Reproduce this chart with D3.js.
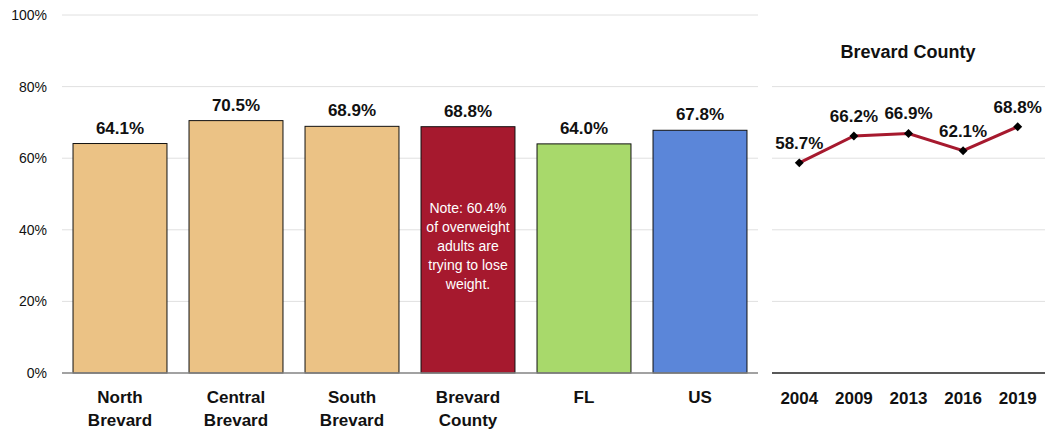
<!DOCTYPE html>
<html><head><meta charset="utf-8">
<script src="https://cdn.jsdelivr.net/npm/d3@7"></script>
<style>
body{margin:0;background:#fff;}
text{font-family:"Liberation Sans Narrow","Arial Narrow","Liberation Sans",Arial,sans-serif;}
</style></head>
<body><svg id="c" width="1045" height="432"></svg>
<script>
const categories = [["North","Brevard"],["Central","Brevard"],["South","Brevard"],["Brevard","County"],["FL"],["US"]];
const values = [64.1, 70.5, 68.9, 68.8, 64.0, 67.8];
const barColors = ["#EBC285","#EBC285","#EBC285","#A6192E","#A8D96B","#5B86D9"];
const yTicks = [0,20,40,60,80,100];
const noteLines = ["Note: 60.4%","of overweight","adults are","trying to lose","weight."];
const years = ["2004","2009","2013","2016","2019"];
const trend = [58.7, 66.2, 66.9, 62.1, 68.8];
const trendTicks = [20,40,60,80];
const trendTitle = "Brevard County";

const svg = d3.select("#c");
const y = d3.scaleLinear().domain([0,100]).range([373,15]);

// left chart
const x = d3.scaleBand().domain(d3.range(categories.length)).range([62,758]).paddingInner(0.19).paddingOuter(0.095);
const g = svg.append("g");
g.selectAll("line.grid").data(yTicks).join("line")
  .attr("x1",62).attr("x2",758).attr("y1",d=>y(d)).attr("y2",d=>y(d))
  .attr("stroke","#e0e0e0").attr("stroke-width",1);
g.selectAll("text.yt").data(yTicks).join("text")
  .attr("x",47).attr("y",d=>y(d)).attr("dy","0.35em").attr("text-anchor","end")
  .attr("font-size",14).attr("fill","#111").text(d=>d+"%");
g.selectAll("rect").data(values).join("rect")
  .attr("x",(d,i)=>x(i)).attr("width",x.bandwidth())
  .attr("y",d=>y(d)).attr("height",d=>y(0)-y(d))
  .attr("fill",(d,i)=>barColors[i]).attr("stroke","#111").attr("stroke-width",1);
g.append("line").attr("x1",62).attr("x2",758).attr("y1",y(0)).attr("y2",y(0)).attr("stroke","#888").attr("stroke-width",1.5);
g.selectAll("text.val").data(values).join("text")
  .attr("x",(d,i)=>x(i)+x.bandwidth()/2).attr("y",d=>y(d)-10)
  .attr("text-anchor","middle").attr("font-size",17).attr("font-weight","bold").attr("fill","#111")
  .text(d=>d.toFixed(1)+"%");
categories.forEach((c,i)=>{
  c.forEach((ln,j)=>{
    g.append("text").attr("x",x(i)+x.bandwidth()/2).attr("y",403+j*23)
     .attr("text-anchor","middle").attr("font-size",17).attr("font-weight","bold").attr("fill","#111").text(ln);
  });
});
noteLines.forEach((ln,j)=>{
  g.append("text").attr("x",x(3)+x.bandwidth()/2).attr("y",208+j*19).attr("dy","0.35em")
   .attr("text-anchor","middle").attr("font-size",14).attr("fill","#fff").text(ln);
});

// right chart
const x2 = d3.scalePoint().domain(years).range([772,1045]).padding(0.5);
const g2 = svg.append("g");
g2.selectAll("line.grid").data(trendTicks).join("line")
  .attr("x1",772).attr("x2",1045).attr("y1",d=>y(d)).attr("y2",d=>y(d))
  .attr("stroke","#e0e0e0").attr("stroke-width",1);
g2.append("line").attr("x1",772).attr("x2",1045).attr("y1",y(0)).attr("y2",y(0)).attr("stroke","#222").attr("stroke-width",1.5);
g2.append("text").attr("x",908).attr("y",52).attr("dy","0.35em").attr("text-anchor","middle")
  .attr("font-size",18).attr("font-weight","bold").attr("fill","#111").text(trendTitle);
const line = d3.line().x((d,i)=>x2(years[i])).y(d=>y(d));
g2.append("path").datum(trend).attr("d",line).attr("fill","none").attr("stroke","#A6192E").attr("stroke-width",3);
g2.selectAll("path.m").data(trend).join("path")
  .attr("transform",(d,i)=>`translate(${x2(years[i])},${y(d)}) rotate(45)`)
  .attr("d",d3.symbol(d3.symbolSquare,40)).attr("fill","#000");
g2.selectAll("text.v").data(trend).join("text")
  .attr("x",(d,i)=>x2(years[i])).attr("y",d=>y(d)-20).attr("dy","0.35em")
  .attr("text-anchor","middle").attr("font-size",17).attr("font-weight","bold").attr("fill","#111")
  .text(d=>d.toFixed(1)+"%");
g2.selectAll("text.xl").data(years).join("text")
  .attr("x",d=>x2(d)).attr("y",398).attr("dy","0.35em").attr("text-anchor","middle")
  .attr("font-size",17).attr("font-weight","bold").attr("fill","#111").text(d=>d);
</script></body></html>
